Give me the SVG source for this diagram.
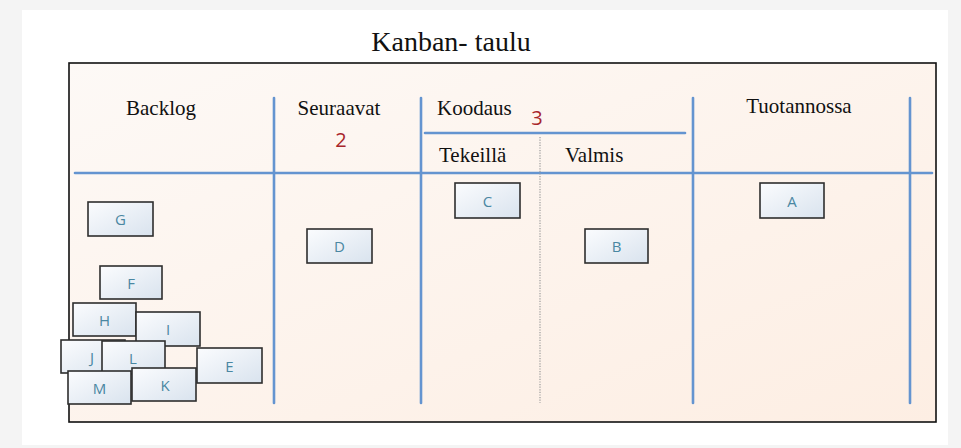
<svg xmlns="http://www.w3.org/2000/svg" width="961" height="448" viewBox="0 0 961 448">
  <defs>
    <linearGradient id="boardFill" x1="0" y1="0" x2="1" y2="1">
      <stop offset="0" stop-color="#fdf9f6"/>
      <stop offset="1" stop-color="#fdeee3"/>
    </linearGradient>
    <linearGradient id="cardFill" x1="0" y1="0" x2="1" y2="1">
      <stop offset="0" stop-color="#fbfcfe"/>
      <stop offset="1" stop-color="#d9e3ee"/>
    </linearGradient>
  </defs>
  <style>
    .head { font-family: "Liberation Serif", "Times New Roman", serif; font-size: 21px; fill: #111; }
    .title { font-family: "Liberation Serif", "Times New Roman", serif; font-size: 28px; fill: #111; }
    .limit { font-family: "Open Sans", "DejaVu Sans", sans-serif; font-size: 20px; fill: #a8262b; }
    .lane { stroke: #6494d0; stroke-width: 2.6; fill: none; stroke-linecap: round; }
    .card rect { fill: url(#cardFill); stroke: #2e2e2e; stroke-width: 1.6; }
    .card text { font-family: "Open Sans", "DejaVu Sans", sans-serif; font-size: 15px; fill: #4a87a2; text-anchor: middle; }
  </style>

  <!-- page -->
  <rect x="0" y="0" width="961" height="448" fill="#f4f4f4"/>
  <rect x="22" y="10" width="926" height="435" fill="#ffffff"/>

  <text class="title" x="451" y="51" text-anchor="middle">Kanban- taulu</text>

  <!-- board frame -->
  <rect x="69" y="63" width="867" height="359" fill="url(#boardFill)" stroke="#111" stroke-width="1.6"/>

  <!-- lanes -->
  <g id="lanes">
    <line class="lane" x1="75" y1="173" x2="932" y2="173"/>
    <line class="lane" x1="274" y1="98" x2="274" y2="403"/>
    <line class="lane" x1="421" y1="98" x2="421" y2="403"/>
    <line class="lane" x1="693" y1="98" x2="693" y2="403"/>
    <line class="lane" x1="910" y1="98" x2="910" y2="403"/>
    <line class="lane" x1="425" y1="133" x2="685" y2="133"/>
    <line x1="540" y1="137" x2="540" y2="403" stroke="#9a9a9a" stroke-width="1.2" stroke-dasharray="1.2,1.4"/>
  </g>

  <!-- headings -->
  <g id="headings">
    <text class="head" x="161" y="115" text-anchor="middle">Backlog</text>
    <text class="head" x="339" y="115" text-anchor="middle">Seuraavat</text>
    <text class="limit" x="341" y="147" text-anchor="middle">2</text>
    <text class="head" x="437" y="115">Koodaus</text>
    <text class="limit" x="537" y="125" text-anchor="middle">3</text>
    <text class="head" x="439" y="162">Tekeillä</text>
    <text class="head" x="565" y="162">Valmis</text>
    <text class="head" x="799" y="113" text-anchor="middle">Tuotannossa</text>
  </g>

  <!-- cards -->
  <g id="card-G" class="card"><rect x="88" y="202" width="65" height="34"/><text x="120.5" y="224.5">G</text></g>
  <g id="card-F" class="card"><rect x="100" y="266" width="62" height="33"/><text x="131" y="288.5">F</text></g>
  <g id="card-H" class="card"><rect x="73" y="303" width="63" height="33"/><text x="104.5" y="325.5">H</text></g>
  <g id="card-I" class="card"><rect x="136" y="312" width="64" height="34"/><text x="168" y="334.5">I</text></g>
  <g id="card-J" class="card"><rect x="61" y="340" width="64" height="33"/><text x="92" y="362.5">J</text></g>
  <g id="card-L" class="card"><rect x="102" y="341" width="63" height="33"/><text x="133" y="363.5">L</text></g>
  <g id="card-E" class="card"><rect x="197" y="348" width="65" height="35"/><text x="229.5" y="371.5">E</text></g>
  <g id="card-M" class="card"><rect x="68" y="371" width="63" height="33"/><text x="99.5" y="393.5">M</text></g>
  <g id="card-K" class="card"><rect x="132" y="368" width="64" height="33"/><text x="165" y="390.5">K</text></g>
  <g id="card-D" class="card"><rect x="307" y="229" width="65" height="34"/><text x="339.5" y="251.5">D</text></g>
  <g id="card-C" class="card"><rect x="455" y="183" width="65" height="35"/><text x="487.5" y="206.5">C</text></g>
  <g id="card-B" class="card"><rect x="585" y="229" width="63" height="34"/><text x="616.5" y="251.5">B</text></g>
  <g id="card-A" class="card"><rect x="760" y="183" width="64" height="35"/><text x="792" y="206.5">A</text></g>
</svg>
